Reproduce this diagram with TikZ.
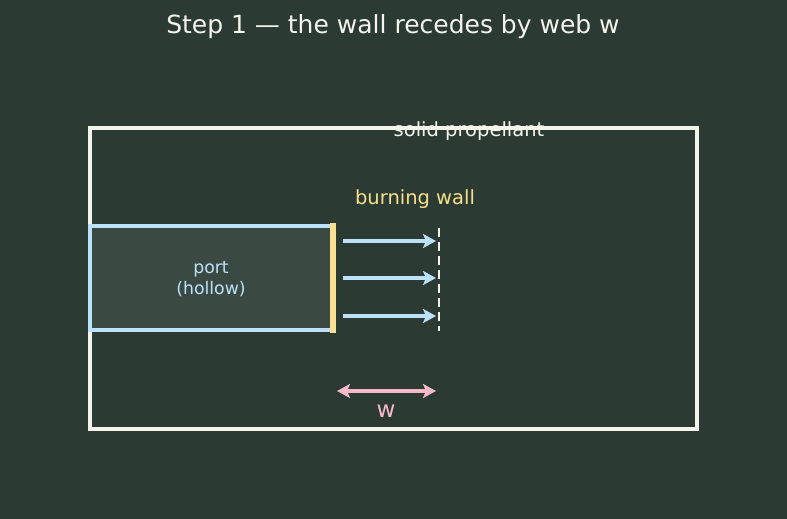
\documentclass[tikz,border=0pt]{standalone}
\usepackage{fontspec}
\setmainfont{DejaVu Sans}
\usetikzlibrary{arrows.meta}
\definecolor{bg}{HTML}{2B3B34}
\definecolor{portfill}{HTML}{3A4A43}
\definecolor{wallw}{HTML}{F4F3EC}
\definecolor{lblue}{HTML}{BEE1FA}
\definecolor{wyellow}{HTML}{F8E08E}
\definecolor{wpink}{HTML}{F9B9C9}
\tikzset{
  tip/.style={Stealth[length=13pt,width=14pt,inset=3pt]},
  arr/.style={line width=3.6pt, lblue, -{Stealth[length=13pt,width=14pt,inset=3pt]}},
  lbl/.style={inner sep=0pt, anchor=center},
}
\begin{document}
\begin{tikzpicture}[x=1pt,y=-1pt]
\fill[bg] (0,0) rectangle (787,519);
\useasboundingbox (0,0) rectangle (787,519);
\node[lbl, text=wallw, font=\fontsize{25}{30}\selectfont] (title) at (393,27) {Step 1 — the wall recedes by web w};
\draw[wallw, line width=4.2pt] (90,128) rectangle (697,429);
\node[lbl, text=wallw, font=\fontsize{19.5}{23}\selectfont] (solid) at (469,131) {solid propellant};
\draw[lblue, fill=portfill, line width=3.6pt] (333,226) -- (90,226) -- (90,330) -- (333,330);
\node[lbl, text=lblue, font=\fontsize{17.3}{21}\selectfont, align=center] (port) at (211,279) {port\\(hollow)};
\draw[wyellow, line width=6pt] (333,223) -- (333,333);
\node[lbl, text=wyellow, font=\fontsize{19.5}{23}\selectfont] (burn) at (415,199) {burning wall};
\coordinate (a1s) at (343,241); \coordinate (a1e) at (436,241);
\coordinate (a2s) at (343,278); \coordinate (a2e) at (436,278);
\coordinate (a3s) at (343,316); \coordinate (a3e) at (436,316);
\draw[arr] (a1s) -- (a1e);
\draw[arr] (a2s) -- (a2e);
\draw[arr] (a3s) -- (a3e);
\coordinate (dtop) at (439,228); \coordinate (dbot) at (439,331);
\draw[wallw, line width=2.8pt, dash pattern=on 9pt off 5pt] (dtop) -- (dbot);
\coordinate (ws) at (337,391); \coordinate (we) at (436,391);
\draw[wpink, line width=3.6pt, {Stealth[length=13pt,width=14pt,inset=3pt]}-{Stealth[length=13pt,width=14pt,inset=3pt]}] (ws) -- (we);
\node[lbl, text=wpink, font=\fontsize{23}{27}\selectfont] (w) at (386,411) {w};
\end{tikzpicture}
\end{document}
